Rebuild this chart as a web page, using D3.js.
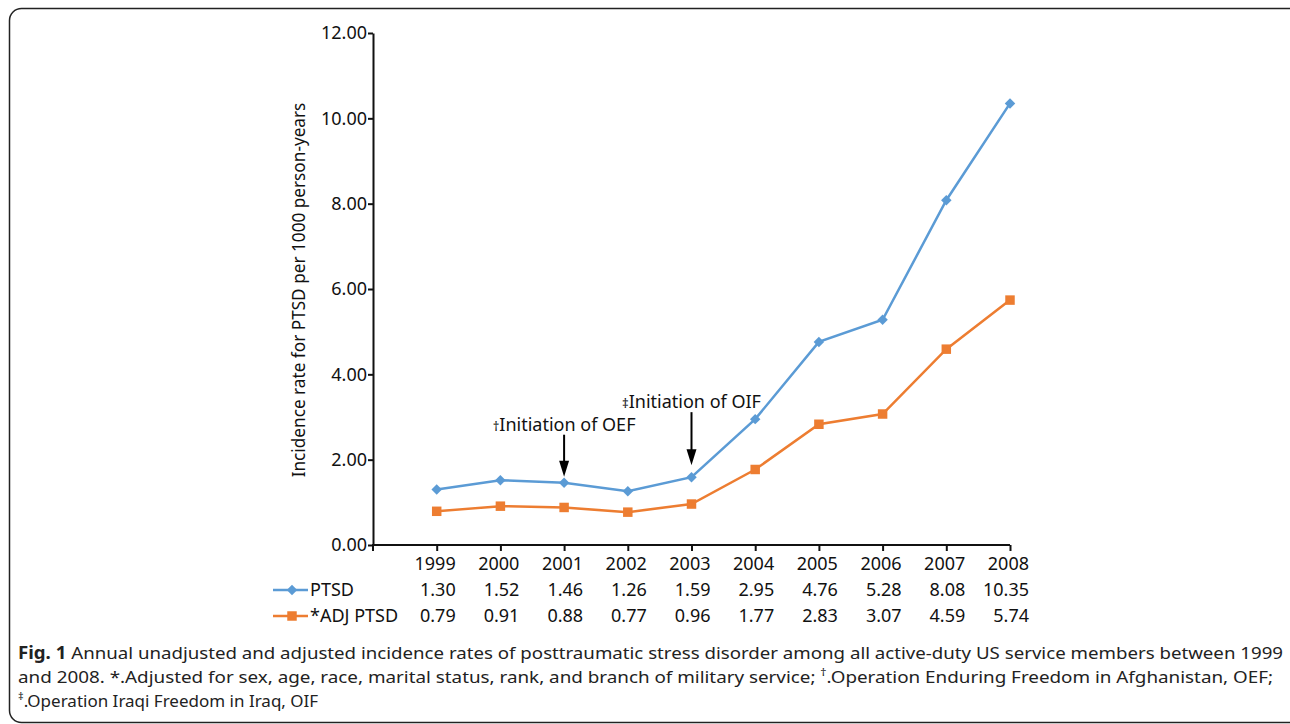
<!DOCTYPE html>
<html>
<head>
<meta charset="utf-8">
<script src="https://cdn.jsdelivr.net/npm/d3@7"></script>
<style>
  body { margin: 0; background: #fff; }
  svg { display: block; }
</style>
</head>
<body>
<svg id="chart" width="1290" height="724"></svg>
<script>
// data
const years = ["1999", "2000", "2001", "2002", "2003", "2004", "2005", "2006", "2007", "2008"]
const ptsd = [1.30, 1.52, 1.46, 1.26, 1.59, 2.95, 4.76, 5.28, 8.08, 10.35]
const adjPtsd = [0.79, 0.91, 0.88, 0.77, 0.96, 1.77, 2.83, 3.07, 4.59, 5.74]
const yTicks = [0, 2, 4, 6, 8, 10, 12]
const seriesNames = ["PTSD", "*ADJ PTSD"]
const noteYears = ["2001", "2003"]
const noteLabels = ["\u2020Initiation of OEF", "\u2021Initiation of OIF"]

const svg = d3.select("#chart")
const font = "'Noto Sans', 'Open Sans', sans-serif"
const blue = "#5b9bd5"
const orange = "#ed7d31"
const fs = 18

// frame
svg.append("rect").attr("x", 9.5).attr("y", 8.5).attr("width", 1300).attr("height", 714)
  .attr("rx", 12).attr("fill", "none").attr("stroke", "#222").attr("stroke-width", 1.5)

const x0 = 373, x1 = 1010, yTop = 33, yBot = 545
const step = (x1 - x0) / years.length
const x = d3.scalePoint().domain(years).range([x0 + step, x1])
const y = d3.scaleLinear().domain([0, 12]).range([yBot, yTop])

// y axis
const yAxis = svg.append("g").attr("transform", `translate(${x0},0)`)
  .call(d3.axisLeft(y).tickValues(yTicks).tickFormat(d3.format(".2f")).tickSize(5).tickSizeOuter(0))
yAxis.selectAll("path, line").attr("stroke", "#111").attr("stroke-width", 2)
yAxis.selectAll("text").attr("font-family", font).attr("font-size", fs).attr("fill", "#111").attr("x", -6)

// x axis
const xAxis = svg.append("g").attr("transform", `translate(0,${yBot})`)
  .call(d3.axisBottom(x).tickSize(6).tickSizeOuter(0).tickFormat(""))
xAxis.select(".domain").attr("d", `M${x0},6V0H${x1}`)
xAxis.selectAll("path, line").attr("stroke", "#111").attr("stroke-width", 2)

// y title
svg.append("text").attr("transform", `translate(305,${(yTop + yBot) / 2 + 1}) rotate(-90)`)
  .attr("text-anchor", "middle").attr("font-family", font).attr("font-size", 17.2).attr("fill", "#111")
  .text("Incidence rate for PTSD per 1000 person-years")

// lines
const line = d3.line().x((d, i) => x(years[i])).y((d) => y(d))
svg.append("path").datum(ptsd).attr("d", line).attr("fill", "none").attr("stroke", blue).attr("stroke-width", 2.5)
svg.append("path").datum(adjPtsd).attr("d", line).attr("fill", "none").attr("stroke", orange).attr("stroke-width", 2.5)

const diamond = d3.symbol().type(d3.symbolDiamond2).size(70)
const square = d3.symbol().type(d3.symbolSquare).size(90)
svg.selectAll(".pt").data(ptsd).enter().append("path").attr("class", "pt")
  .attr("transform", (d, i) => `translate(${x(years[i])},${y(d)})`).attr("d", diamond).attr("fill", blue)
svg.selectAll(".adj").data(adjPtsd).enter().append("path").attr("class", "adj")
  .attr("transform", (d, i) => `translate(${x(years[i])},${y(d)})`).attr("d", square).attr("fill", orange)

// annotations: gap above the point and arrow length differ per note
const gaps = [6, 12], lens = [42, 53]
noteYears.forEach((yr, k) => {
  const cx = x(yr)
  const tip = y(ptsd[years.indexOf(yr)]) - gaps[k]
  const top = tip - lens[k]
  svg.append("line").attr("x1", cx).attr("x2", cx).attr("y1", top).attr("y2", tip - 14)
    .attr("stroke", "#000").attr("stroke-width", 2)
  svg.append("path").attr("d", `M${cx - 5},${tip - 16}L${cx + 5},${tip - 16}L${cx},${tip}Z`).attr("fill", "#000")
  const t = svg.append("text").attr("x", cx).attr("y", top - 4).attr("text-anchor", "middle")
    .attr("font-family", font).attr("font-size", fs).attr("fill", "#111")
  t.append("tspan").attr("font-size", 13).text(noteLabels[k].slice(0, 1))
  t.append("tspan").text(noteLabels[k].slice(1))
})

// data table under the axis
const half = 19
svg.selectAll(".yr").data(years).enter().append("text")
  .attr("x", (d) => x(d) + half).attr("y", 570).attr("text-anchor", "end")
  .attr("font-family", font).attr("font-size", fs).attr("fill", "#111").text((d) => d)
const rows = [ptsd, adjPtsd]
const rowY = [596, 622]
rows.forEach((vals, r) => {
  svg.selectAll(".row" + r).data(vals).enter().append("text")
    .attr("x", (d, i) => x(years[i]) + half).attr("y", rowY[r]).attr("text-anchor", "end")
    .attr("font-family", font).attr("font-size", fs).attr("fill", "#111").text((d) => d3.format(".2f")(d))
})

// legend in the table
const legColors = [blue, orange]
const legShapes = [diamond, square]
seriesNames.forEach((s, r) => {
  const ly = rowY[r] - 6
  svg.append("line").attr("x1", 273).attr("x2", 308).attr("y1", ly).attr("y2", ly).attr("stroke", legColors[r]).attr("stroke-width", 2.5)
  svg.append("path").attr("transform", `translate(292,${ly})`).attr("d", legShapes[r]).attr("fill", legColors[r])
  svg.append("text").attr("x", 310).attr("y", rowY[r]).attr("font-family", font).attr("font-size", fs).attr("fill", "#111").text(s)
})

// caption
const cap = svg.append("g").attr("font-family", font).attr("font-size", 17).attr("fill", "#222")
const l1 = cap.append("text").attr("x", 18).attr("y", 659).attr("textLength", 1265).attr("lengthAdjust", "spacingAndGlyphs")
l1.append("tspan").attr("font-weight", "bold").text("Fig. 1")
l1.append("tspan").text(" Annual unadjusted and adjusted incidence rates of posttraumatic stress disorder among all active-duty US service members between 1999")
const l2 = cap.append("text").attr("x", 18).attr("y", 683).attr("textLength", 1255).attr("lengthAdjust", "spacingAndGlyphs")
l2.append("tspan").text("and 2008. *.Adjusted for sex, age, race, marital status, rank, and branch of military service; ")
l2.append("tspan").attr("font-size", 11).attr("dy", -7).text("\u2020")
l2.append("tspan").attr("dy", 7).text(".Operation Enduring Freedom in Afghanistan, OEF;")
const l3 = cap.append("text").attr("x", 18).attr("y", 707)
l3.append("tspan").attr("font-size", 11).attr("dy", -7).text("\u2021")
l3.append("tspan").attr("dy", 7).text(".Operation Iraqi Freedom in Iraq, OIF")
</script>
</body>
</html>
